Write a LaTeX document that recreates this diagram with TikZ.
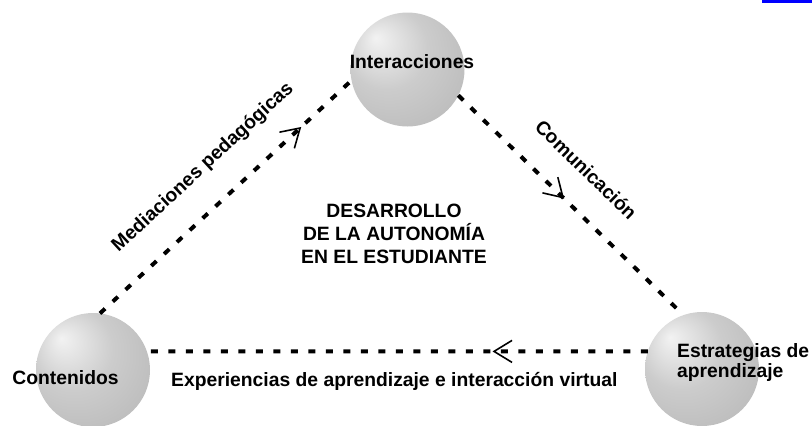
\documentclass[tikz,border=0pt]{standalone}
\usepackage{fontspec}
\setmainfont{Liberation Sans}
\usetikzlibrary{arrows.meta,decorations.markings,shadings}
\pgfdeclareradialshading{softsphere}{\pgfpoint{-14bp}{14bp}}{%
    color(0bp)=(gray!10); color(18bp)=(gray!40); color(38bp)=(gray!55); color(52bp)=(gray!64)}
\newcommand{\rs}{57pt}
\tikzset{
    sphere/.style = {
        circle, shading=softsphere,
        minimum size={2*\rs},
        inner sep=0,
        outer sep=0
    },
    lbl/.style = {
        inner sep=0, align=center,
        font=\fontsize{19.3}{23}\selectfont\bfseries
    },
    link/.style = {
        dash pattern=on 7pt off 10.5pt, line width=4pt,
        decoration={markings,
            mark=at position #1 with {\arrow{Straight Barb[length=18pt,width=22pt,line width=1.6pt]}}},
        postaction={decorate}
    }
}

\begin{document}
\begin{tikzpicture}[x=1pt,y=-1pt]
\useasboundingbox (0,0) rectangle (812,426);

\node[sphere](inter) at (407.5,69.5) {};
\node[sphere](cont)  at (93,370)     {};
\node[sphere](estr)  at (702,369)    {};

\node[lbl](interT) at (412,61.5)  {Interacciones};
\node[lbl](contT)  at (65.5,377.5) {Contenidos};
\node[lbl, anchor=west, align=left, font=\fontsize{19.3}{20}\selectfont\bfseries](estrT) at (677,363) {Estrategias de\\aprendizaje};
\node[lbl](centro) at (394,234) {DESARROLLO\\DE LA AUTONOMÍA\\EN EL ESTUDIANTE};

\draw[link=0.8]  (cont.83)  -- node[lbl, sloped, above=26pt, pos=0.51](medT) {Mediaciones pedagógicas} (inter.191);
\draw[link=0.47] (inter.333) -- node[lbl, sloped, above=27pt, pos=0.456](comT) {Comunicación} (estr.109);
\draw[link=0.31] (estr.162) -- node[lbl, below=19pt, pos=0.506](expT) {Experiencias de aprendizaje e interacción virtual} (cont.19);

\fill[blue] (762,0) rectangle (812,3);

\end{tikzpicture}
\end{document}
